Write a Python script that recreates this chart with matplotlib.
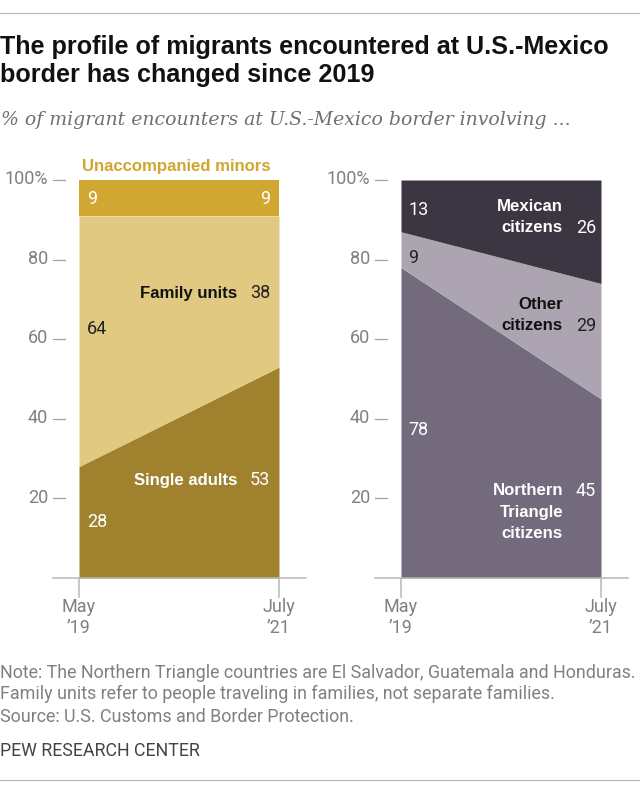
import matplotlib
matplotlib.use("Agg")
import matplotlib.pyplot as plt
from matplotlib.lines import Line2D

W, H = 640, 792
periods = ["May\n\u201919", "July\n\u201921"]
y_ticks = [20, 40, 60, 80, 100]
y_labels = ["20", "40", "60", "80", "100%"]

single_adults = [28, 53]
family_units = [63, 38]
unaccompanied = [9, 9]
single_labels = ["28", "53"]
family_labels = ["64", "38"]
minor_labels = ["9", "9"]

northern_triangle = [78, 45]
other_citizens = [9, 29]
mexican_citizens = [13, 26]

SANS = ["Liberation Sans", "DejaVu Sans"]
LABEL = "Roboto"
GREY = "#808080"

fig = plt.figure(figsize=(W / 100, H / 100), dpi=100, facecolor="white")


def px_text(x, y, s, **kw):
    kw.setdefault("family", SANS)
    return fig.text(x / W, 1 - y / H, s, **kw)


def hline(y, x0=0, x1=W, color="#b5b5b5", lw=0.8):
    fig.add_artist(Line2D([x0 / W, x1 / W], [1 - y / H] * 2, color=color, lw=lw,
                          transform=fig.transFigure))


def make_axes(left, right, top=180, bottom=578):
    ax = fig.add_axes([left / W, 1 - bottom / H, (right - left) / W, (bottom - top) / H])
    ax.set_xlim(0, 1)
    ax.set_ylim(0, 100)
    for s in ax.spines.values():
        s.set_visible(False)
    ax.set_xticks([])
    ax.set_yticks([])
    ax.patch.set_alpha(0)
    ax.plot([-26 / 200, 1 + 27 / 200], [0, 0], color="#b8b8b8", lw=1.1, clip_on=False, zorder=5)
    for xv, lab in zip([0, 1], periods):
        ax.plot([xv, xv], [0, -4.7], color="#b8b8b8", lw=1.1, clip_on=False, zorder=5)
        ax.text(xv, -5.0, lab, ha="center", va="top", fontsize=13, color=GREY,
                family=LABEL, linespacing=1.24)
    for t, lab in zip(y_ticks, y_labels):
        ax.plot([-26 / 200, -14 / 200], [t, t], color="#a0a0a0", lw=0.9, clip_on=False)
        ax.text(-31 / 200, t + 0.2, lab, ha="right", va="center", fontsize=13,
                color=GREY, family=LABEL)
    return ax


def stack(ax, series, colors):
    x = [0, 1]
    base = [0, 0]
    for vals, c in zip(series, colors):
        top = [a + b for a, b in zip(base, vals)]
        ax.fill_between(x, base, top, color=c, lw=0)
        base = top


ax1 = make_axes(79, 279)
stack(ax1, [single_adults, family_units, unaccompanied], ["#a0812d", "#e1c982", "#cfa731"])
ax2 = make_axes(401, 601)
stack(ax2, [northern_triangle, other_citizens, mexican_citizens], ["#736a7e", "#aca5b1", "#3c3542"])

# header
hline(13)
px_text(0, 47, "The profile of migrants encountered at U.S.-Mexico", fontsize=18.1,
        fontweight="bold", color="#111111", va="center")
px_text(0, 75, "border has changed since 2019", fontsize=18.1,
        fontweight="bold", color="#111111", va="center")
px_text(1, 120, "% of migrant encounters at U.S.-Mexico border involving ...", fontsize=13.6,
        family="DejaVu Serif", style="italic", color="#707070", va="center")


def val(x, y, s, color, ha="left"):
    px_text(x, y + 1, s, fontsize=13, color=color, family=LABEL, ha=ha, va="center")


def name(x, y, s, color, ha="right"):
    px_text(x, y + 1, s, fontsize=12.1, color=color, fontweight="bold", ha=ha, va="center",
            linespacing=1.53, multialignment=ha)


name(176, 165, "Unaccompanied minors", "#cfa731", ha="center")
val(87, 198, minor_labels[0], "white")
val(270, 198, minor_labels[1], "white", ha="right")
name(237, 292, "Family units", "#111111")
val(270, 292, family_labels[1], "#222222", ha="right")
val(87, 328, family_labels[0], "#222222")
name(238, 479, "Single adults", "white")
val(270, 479, single_labels[1], "white", ha="right")
val(87, 521, single_labels[0], "white")

val(408, 209, str(mexican_citizens[0]), "white")
name(563, 216, "Mexican\ncitizens", "white")
val(596, 227, str(mexican_citizens[1]), "white", ha="right")
val(408, 257, str(other_citizens[0]), "#222222")
name(563, 314, "Other\ncitizens", "#111111")
val(596, 325, str(other_citizens[1]), "#222222", ha="right")
val(408, 429, str(northern_triangle[0]), "white")
name(563, 511, "Northern\nTriangle\ncitizens", "white")
val(596, 490, str(northern_triangle[1]), "white", ha="right")

# footer
notes = [
    (673, "Note: The Northern Triangle countries are El Salvador, Guatemala and Honduras."),
    (694, "Family units refer to people traveling in families, not separate families."),
    (717, "Source: U.S. Customs and Border Protection."),
]
for y, s in notes:
    px_text(0, y, s, fontsize=12.85, color=GREY, va="center", family=LABEL)
px_text(0, 751, "PEW RESEARCH CENTER", fontsize=12.8, color="#444444", va="center", family=LABEL)
hline(780)

fig.savefig("out.png", dpi=100)
